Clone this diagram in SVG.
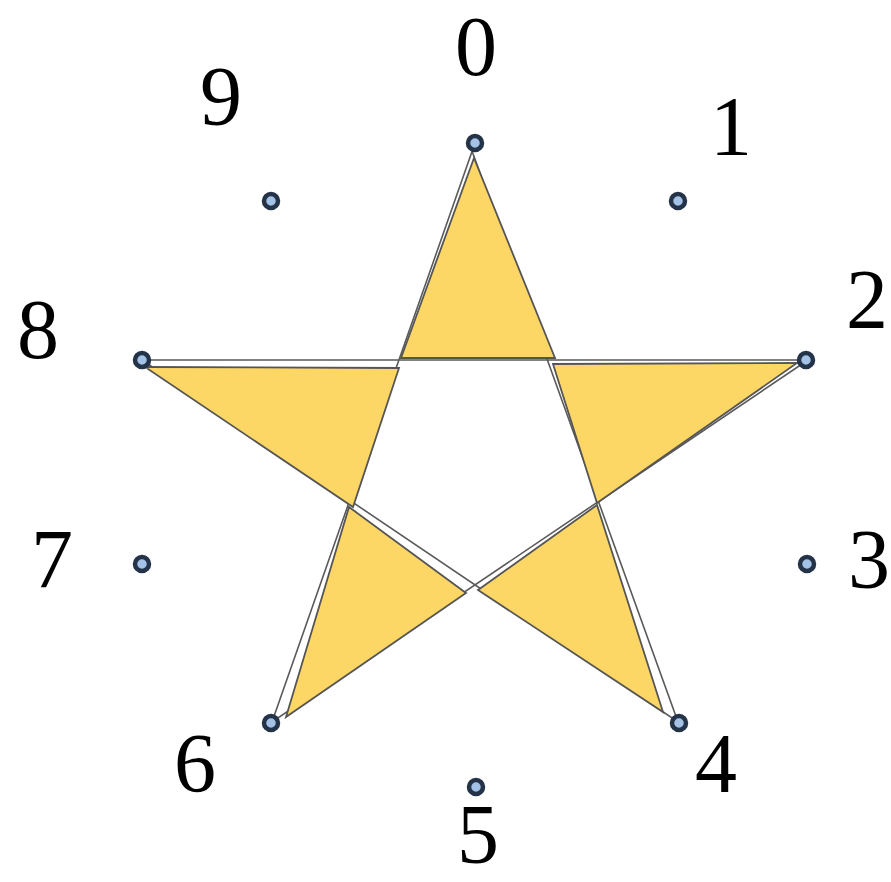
<svg xmlns="http://www.w3.org/2000/svg" width="891" height="882" viewBox="0 0 891 882">
<style>
.lbl{font-family:"Liberation Serif","Times New Roman",serif;font-size:84px;fill:#000;text-anchor:middle}
.ln{fill:none;stroke:#5a5a5a;stroke-width:1.6;stroke-linejoin:miter}
.tri{fill:#FDD766;stroke:#555;stroke-width:1.8;stroke-linejoin:miter}
.dot{fill:#A3C2E6;stroke:#253349;stroke-width:4.5}
</style>
<rect width="891" height="882" fill="#fff"/>
<g id="connectors">
<path class="ln" d="M475,143 L272,722 L808,360 L142,360 L678,722 L472,151"/>
</g>
<g id="tri-top"><polygon class="tri" points="474,158 401,358 555,358"/></g>
<g id="tri-left"><polygon class="tri" points="145,367 399,368 353,507"/></g>
<g id="tri-right"><polygon class="tri" points="553,364 797,363 597,503"/></g>
<g id="tri-bottom-left"><polygon class="tri" points="349,507 466,593 286,717"/></g>
<g id="tri-bottom-right"><polygon class="tri" points="597,505 478,590 663,712"/></g>
<g id="n0"><circle class="dot" cx="475" cy="143" r="7"/><text class="lbl" x="476" y="75">0</text></g>
<g id="n1"><circle class="dot" cx="678" cy="201" r="7"/><text class="lbl" x="731" y="155">1</text></g>
<g id="n2"><circle class="dot" cx="806" cy="360" r="7"/><text class="lbl" x="867" y="328">2</text></g>
<g id="n3"><circle class="dot" cx="807" cy="564" r="7"/><text class="lbl" x="869" y="588">3</text></g>
<g id="n4"><circle class="dot" cx="679" cy="723" r="7"/><text class="lbl" x="716" y="792">4</text></g>
<g id="n5"><circle class="dot" cx="476" cy="787" r="7"/><text class="lbl" x="478" y="863">5</text></g>
<g id="n6"><circle class="dot" cx="271" cy="723" r="7"/><text class="lbl" x="195" y="792">6</text></g>
<g id="n7"><circle class="dot" cx="142" cy="564" r="7"/><text class="lbl" x="52" y="588">7</text></g>
<g id="n8"><circle class="dot" cx="142" cy="360" r="7"/><text class="lbl" x="38" y="358">8</text></g>
<g id="n9"><circle class="dot" cx="271" cy="201" r="7"/><text class="lbl" x="221" y="125">9</text></g>
</svg>
